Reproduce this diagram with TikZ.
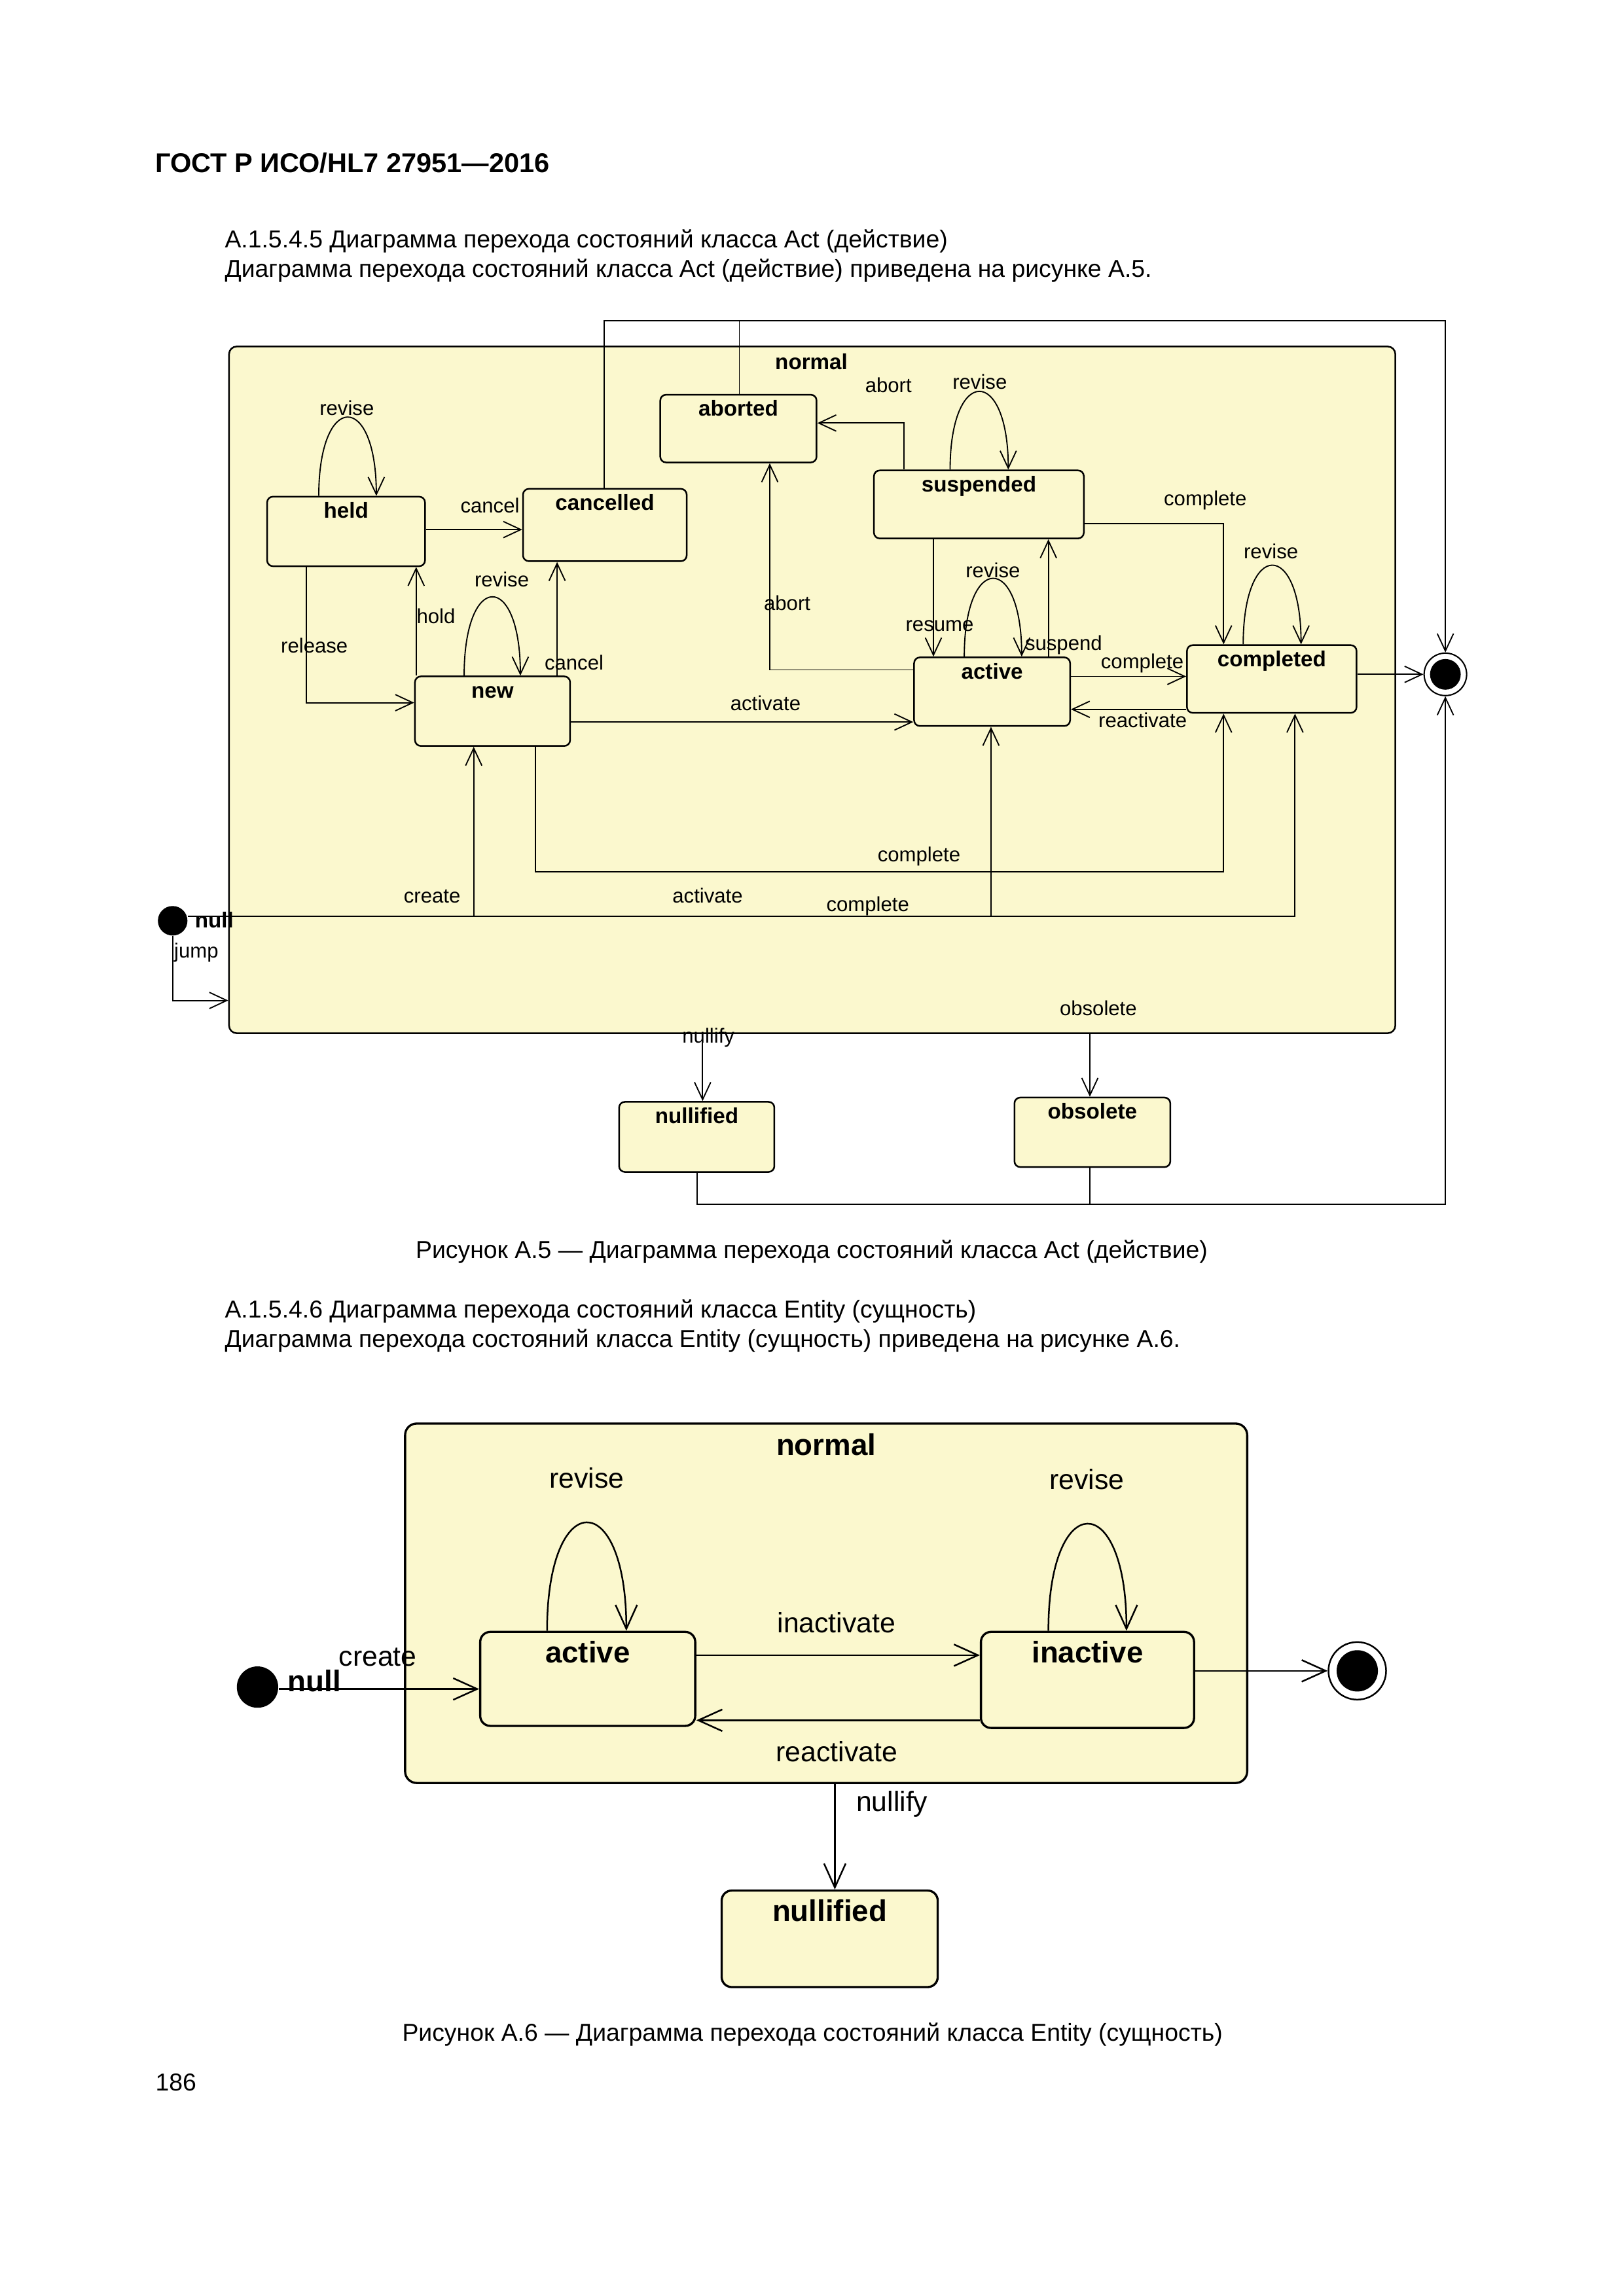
\documentclass[tikz,border=0pt]{standalone}
\usepackage{fontspec}
\setmainfont{Liberation Sans}
\usetikzlibrary{arrows.meta,fit}
\definecolor{stfill}{RGB}{251,248,206}
\begin{document}
\begin{tikzpicture}[x=0.190909mm,y=-0.190909mm,
  body/.style={font=\fontsize{9pt}{11pt}\selectfont, inner sep=0pt, text height=6.5pt, text depth=1.8pt},
  hdr/.style={font=\bfseries\fontsize{10pt}{12pt}\selectfont, inner sep=0pt, text height=7.2pt, text depth=2pt},
  la/.style={font=\fontsize{7.5pt}{9pt}\selectfont, inner sep=0pt, text height=5.4pt, text depth=1.5pt},
  lb/.style={font=\bfseries\fontsize{8pt}{9.6pt}\selectfont, inner sep=0pt, text height=5.8pt, text depth=1.6pt},
  lc/.style={font=\fontsize{10.3pt}{12pt}\selectfont, inner sep=0pt, text height=7.4pt, text depth=2.1pt},
  ld/.style={font=\bfseries\fontsize{11pt}{13pt}\selectfont, inner sep=0pt, text height=7.9pt, text depth=2.2pt},
  sa/.style={draw, fill=stfill, line width=0.6pt, rounded corners=0.75mm, inner sep=0pt, label={[lb, anchor=center, yshift=-6.1pt]north:#1}},
  sb/.style={draw, fill=stfill, line width=0.8pt, rounded corners=1.3mm, inner sep=0pt, label={[ld, anchor=center, yshift=-8.8pt]north:#1}},
  ca/.style={line width=0.45pt},
  aa/.style={ca, -{Straight Barb[length=2.25mm,width=2.1mm]}},
  cb/.style={line width=0.6pt},
  ab/.style={cb, -{Straight Barb[length=3.1mm,width=2.8mm]}},
]
\fill[white] (0,0) rectangle (1100,1555.97);
\useasboundingbox (0,0) rectangle (1100,1555.97);

% ---------- page text ----------
\node[hdr, anchor=west] (hdr) at (105,112) {ГОСТ Р ИСО/HL7 27951—2016};
\node[body, anchor=west] (t1) at (152,163.7) {А.1.5.4.5 Диаграмма перехода состояний класса Act (действие)};
\node[body, anchor=west] (t2) at (152,183.5) {Диаграмма перехода состояний класса Act (действие) приведена на рисунке А.5.};
\node[body] (cap1) at (550,848.2) {Рисунок А.5 — Диаграмма перехода состояний класса Act (действие)};
\node[body, anchor=west] (t3) at (152,888.8) {А.1.5.4.6 Диаграмма перехода состояний класса Entity (сущность)};
\node[body, anchor=west] (t4) at (152,908.7) {Диаграмма перехода состояний класса Entity (сущность) приведена на рисунке А.6.};
\node[body] (cap2) at (550.5,1378.9) {Рисунок А.6 — Диаграмма перехода состояний класса Entity (сущность)};
\node[body, anchor=west] (pnum) at (105,1412.6) {186};

% ---------- diagram A.5 ----------
\node[draw, fill=stfill, line width=0.6pt, rounded corners=1mm, inner sep=0pt, fit={(155.2,234.8) (945.5,700.2)}] (normal1) {};
\node[lb] (normal1lbl) at (549.8,246.5) {normal};

\node[sa=held, fit={(181,336.6) (288,383.7)}] (held) {};
\node[sa=cancelled, fit={(354.4,331.3) (465.3,380.3)}] (cancelled) {};
\node[sa=new, fit={(281.2,458.4) (386.3,505.5)}] (new) {};
\node[sa=aborted, fit={(447.4,267.5) (553.3,313.4)}] (aborted) {};
\node[sa=suspended, fit={(592.2,318.8) (734.4,364.9)}] (suspended) {};
\node[sa=active, fit={(619.4,445.5) (725.1,492)}] (active) {};
\node[sa=completed, fit={(804.3,437.2) (919.2,483.1)}] (completed) {};
\node[sa=nullified, fit={(419.5,746.7) (524.7,794.2)}] (nullified) {};
\node[sa=obsolete, fit={(687.4,743.8) (793,790.9)}] (obsolete) {};
\node[circle, fill=black, minimum size=3.82mm, inner sep=0pt] (init1) at (117,624) {};
\node[circle, draw, line width=0.5pt, fill=white, minimum size=5.5mm, inner sep=0pt] (final1) at (979.4,457) {};
\fill (final1.center) circle[radius=10.4];

\coordinate (bcreate) at (321,621);
\coordinate (bact) at (671.5,621);

% top route
\draw[aa] (cancelled.north -| 409.4,0) -- (409.4,217.4) -| (final1.north);
\draw[ca] (aborted.north -| 501,0) -- (501,217.4);
% held
\draw[aa] (held.north -| 216,0) .. controls +(0,-71) and +(0,-71) .. (held.north -| 255,0);
\node[la] (lrev1) at (235,277.7) {revise};
\draw[aa] (held.east |- 0,358.9) -- (cancelled.west |- 0,358.9);
\node[la] (lcan1) at (332,344) {cancel};
\draw[aa] (held.south -| 207.6,0) |- (new.west |- 0,476.2);
\node[la] (lrel) at (213,438.7) {release};
\draw[aa] (new.north -| 282,0) -- (held.south -| 282,0);
\node[la, anchor=west] (lhold) at (282,419) {hold};
% new
\draw[aa] (new.north -| 314.5,0) .. controls +(0,-71) and +(0,-71) .. (new.north -| 352.6,0);
\node[la] (lrev2) at (340,394) {revise};
\draw[aa] (new.north -| 377.5,0) -- (cancelled.south -| 377.5,0);
\node[la] (lcan2) at (389,450.4) {cancel};
\draw[aa] (new.east |- 0,489.3) -- (active.west |- 0,489.3);
\node[la] (lact1) at (518.7,477.7) {activate};
\draw[aa] (new.south -| 362.7,0) -- (362.7,590.9) -| (completed.south -| 829.1,0);
\node[la] (lcomp1) at (622.7,580.4) {complete};
% initial
\draw[aa] (init1.east |- 0,621) -| (completed.south -| 877.5,0);
\draw[aa] (bcreate) -- (new.south -| bcreate);
\draw[aa] (bact) -- (active.south -| bact);
\node[la] (lcreate1) at (292.8,608.5) {create};
\node[la] (lact2) at (479.5,608.5) {activate};
\node[la] (lcomp4) at (588,614) {complete};
\node[lb] (lnull1) at (145.2,625) {null};
\draw[aa] (init1.south) |- (normal1.west |- 0,678);
\node[la] (ljump) at (133,645.7) {jump};
% suspended
\draw[aa] (suspended.north -| 612.6,0) |- (aborted.east |- 0,286.7);
\node[la] (labort1) at (602,262.3) {abort};
\draw[aa] (suspended.north -| 643.8,0) .. controls +(0,-70.5) and +(0,-70.5) .. (suspended.north -| 683.2,0);
\node[la] (lrev3) at (663.9,260.3) {revise};
\draw[aa] (suspended.south -| 632.5,0) -- (active.north -| 632.5,0);
\node[la] (lres) at (636.7,424.3) {resume};
\draw[aa] (active.north -| 710.4,0) -- (suspended.south -| 710.4,0);
\node[la] (lsus) at (720.7,437.2) {suspend};
% active
\draw[aa] (active.north -| 653.4,0) .. controls +(0,-70.5) and +(0,-70.5) .. (active.north -| 692.3,0);
\node[la] (lrev4) at (672.8,387.7) {revise};
\draw[aa] (active.west |- 0,454) -| (aborted.south -| 521.6,0);
\node[la] (labort2) at (533.4,409.9) {abort};
\draw[aa] (suspended.east |- 0,355) -| (completed.north -| 829.1,0);
\node[la] (lcomp2) at (816.7,339.2) {complete};
\draw[aa] (active.east |- 0,458.4) -- (completed.west |- 0,458.4);
\node[la] (lcomp3) at (774,449.7) {complete};
\draw[aa] (completed.west |- 0,480.7) -- (active.east |- 0,480.7);
\node[la] (lreact1) at (774.3,489.6) {reactivate};
% completed
\draw[aa] (completed.north -| 842.4,0) .. controls +(0,-71.3) and +(0,-71.3) .. (completed.north -| 881.6,0);
\node[la] (lrev5) at (861.2,374.8) {revise};
\draw[aa] (completed.east |- final1.west) -- (final1.west);
% exits
\draw[aa] (normal1.south -| 476.1,0) -- (nullified.north -| 476.1,0);
\node[la] (lnullify1) at (480,703.2) {nullify};
\draw[aa] (normal1.south -| 738.5,0) -- (obsolete.north -| 738.5,0);
\node[la] (lobs) at (744.2,684.4) {obsolete};
\draw[aa] (nullified.south -| 472.4,0) -- (472.4,816) -| (final1.south);
\draw[ca] (obsolete.south -| 738.5,0) -- (738.5,816);

% ---------- diagram A.6 ----------
\node[draw, fill=stfill, line width=0.8pt, rounded corners=1.5mm, inner sep=0pt, fit={(274.5,964.7) (845.1,1208.3)}] (normal2) {};
\node[ld] (normal2lbl) at (559.8,980.8) {normal};
\node[sb=active, fit={(325.4,1105.9) (471.1,1169.6)}] (active2) {};
\node[sb=inactive, fit={(664.7,1105.9) (809.1,1171)}] (inactive2) {};
\node[sb=nullified, fit={(489,1281.2) (635.4,1346.6)}] (nullified2) {};
\node[circle, fill=black, minimum size=5.35mm, inner sep=0pt] (init2) at (174.5,1143.3) {};
\node[circle, draw, line width=0.6pt, fill=white, minimum size=7.45mm, inner sep=0pt] (final2) at (919.7,1132.3) {};
\fill (final2.center) circle[radius=14];

\draw[ab] (init2.east |- 0,1144.6) -- (active2.west |- 0,1144.6);
\node[lc] (lcreate2) at (256,1124.2) {create};
\node[ld] (lnull2) at (213,1141.2) {null};
\draw[ab] (active2.north -| 370.7,0) .. controls +(0,-97.7) and +(0,-97.7) .. (active2.north -| 424.4,0);
\node[lc] (lrev6) at (397.6,1003.7) {revise};
\draw[ab] (inactive2.north -| 710.4,0) .. controls +(0,-96.5) and +(0,-96.5) .. (inactive2.north -| 763.3,0);
\node[lc] (lrev7) at (736.5,1004.6) {revise};
\draw[ab] (active2.east |- 0,1121.7) -- (inactive2.west |- 0,1121.7);
\node[lc] (linact) at (566.8,1101.4) {inactivate};
\draw[ab] (inactive2.west |- 0,1165.8) -- (active2.east |- 0,1165.8);
\node[lc] (lreact2) at (567,1188.8) {reactivate};
\draw[ab] (inactive2.east |- final2.west) -- (final2.west);
\draw[ab] (normal2.south -| 565.7,0) -- (nullified2.north -| 565.7,0);
\node[lc] (lnullify2) at (604.4,1222.7) {nullify};
\end{tikzpicture}
\end{document}
